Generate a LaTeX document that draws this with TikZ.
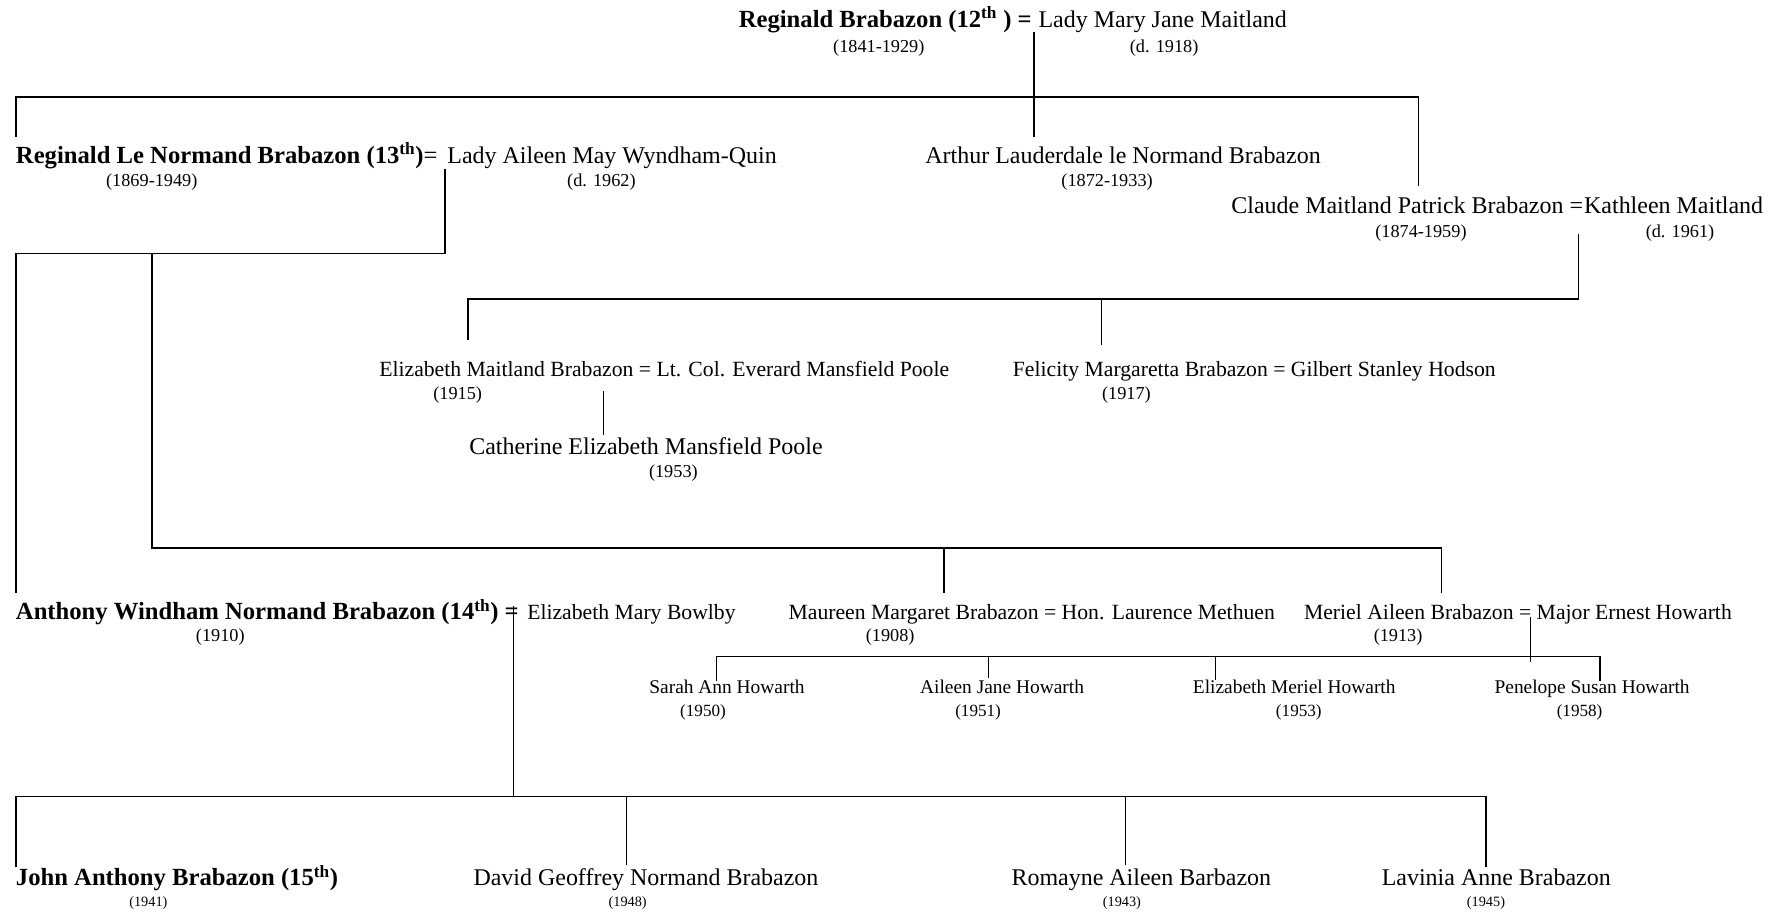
\documentclass[tikz,border=0pt]{standalone}
\usepackage{fontspec}
\setmainfont{Liberation Serif}
\newcommand\fsz[1]{\fontsize{#1}{#1}\selectfont}
\tikzset{
  big/.style={inner sep=0pt, outer sep=0pt, font=\fsz{21}},
  bigb/.style={inner sep=0pt, outer sep=0pt, font=\fsz{21.6}\bfseries},
  mid/.style={inner sep=0pt, outer sep=0pt, font=\fsz{19}},
  kid/.style={inner sep=0pt, outer sep=0pt, font=\fsz{17}},
  dt/.style={inner sep=0pt, outer sep=0pt, font=\fsz{16}},
  dts/.style={inner sep=0pt, outer sep=0pt, font=\fsz{15}},
  dtt/.style={inner sep=0pt, outer sep=0pt, font=\fsz{12.5}},
  link/.style={line width=1.3pt, black}
}
\begin{document}
\begin{tikzpicture}[x=1pt,y=-1pt]
\useasboundingbox (0,0) rectangle (1564,800);
% ---- generation 12
\node[bigb, anchor=base east] (r12) at (904,24) {Reginald Brabazon (12\textsuperscript{th} ) =};
\node[big, anchor=base west] (mjm) at (910,24) {Lady Mary Jane Maitland};
\node[dt, anchor=base] (r12d) at (770,46) {(1841-1929)};
\node[dt, anchor=base] (mjmd) at (1020,46) {(d. 1918)};
% ---- generation 13
\node[bigb, anchor=base west] (r13) at (14,143) {Reginald Le Normand Brabazon (13\textsuperscript{th})\mdseries=};
\node[big, anchor=base west] (aml) at (392,143) {Lady Aileen May Wyndham-Quin};
\node[dt, anchor=base] (r13d) at (133,163) {(1869-1949)};
\node[dt, anchor=base] (amld) at (527,163) {(d. 1962)};
\node[big, anchor=base] (arth) at (984,143) {Arthur Lauderdale le Normand Brabazon};
\node[dt, anchor=base] (arthd) at (970,163) {(1872-1933)};
\node[big, anchor=base east] (clau) at (1387,187) {Claude Maitland Patrick Brabazon =};
\node[big, anchor=base west] (kath) at (1388,187) {Kathleen Maitland};
\node[dt, anchor=base] (claud) at (1245,208) {(1874-1959)};
\node[dt, anchor=base] (kathd) at (1472,208) {(d. 1961)};
% ---- Claude's children
\node[mid, anchor=base] (eliz) at (582,330) {Elizabeth Maitland Brabazon = Lt. Col. Everard Mansfield Poole};
\node[dt, anchor=base] (elizd) at (401,350) {(1915)};
\node[mid, anchor=base] (feli) at (1099,330) {Felicity Margaretta Brabazon = Gilbert Stanley Hodson};
\node[dt, anchor=base] (felid) at (987,350) {(1917)};
\node[big, anchor=base] (cath) at (566,398) {Catherine Elizabeth Mansfield Poole};
\node[dt, anchor=base] (cathd) at (590,418) {(1953)};
% ---- generation 14
\node[bigb, anchor=base west] (a14) at (14,543) {Anthony Windham Normand Brabazon (14\textsuperscript{th}) =};
\node[mid, anchor=base west] (emb) at (462,543) {Elizabeth Mary Bowlby};
\node[dt, anchor=base] (a14d) at (193,562) {(1910)};
\node[mid, anchor=base] (maur) at (904,543) {Maureen Margaret Brabazon = Hon. Laurence Methuen};
\node[dt, anchor=base] (maurd) at (780,562) {(1908)};
\node[mid, anchor=base] (meri) at (1330,543) {Meriel Aileen Brabazon = Major Ernest Howarth};
\node[dt, anchor=base] (merid) at (1225,562) {(1913)};
% ---- Howarth children
\node[kid, anchor=base] (sara) at (637,608) {Sarah Ann Howarth};
\node[dts, anchor=base] (sarad) at (616,628) {(1950)};
\node[kid, anchor=base] (aile) at (878,608) {Aileen Jane Howarth};
\node[dts, anchor=base] (ailed) at (857,628) {(1951)};
\node[kid, anchor=base] (emh) at (1134,608) {Elizabeth Meriel Howarth};
\node[dts, anchor=base] (emhd) at (1138,628) {(1953)};
\node[kid, anchor=base] (pene) at (1395,608) {Penelope Susan Howarth};
\node[dts, anchor=base] (pened) at (1384,628) {(1958)};
% ---- generation 15
\node[bigb, anchor=base west] (j15) at (14,776) {John Anthony Brabazon (15\textsuperscript{th})};
\node[dtt, anchor=base] (j15d) at (130,794) {(1941)};
\node[big, anchor=base] (davi) at (566,776) {David Geoffrey Normand Brabazon};
\node[dtt, anchor=base] (david) at (550,794) {(1948)};
\node[big, anchor=base] (roma) at (1000,776) {Romayne Aileen Barbazon};
\node[dtt, anchor=base] (romad) at (983,794) {(1943)};
\node[big, anchor=base] (lavi) at (1311,776) {Lavinia Anne Brabazon};
\node[dtt, anchor=base] (lavid) at (1302,794) {(1945)};
% ---- junction coordinates
\coordinate (m12) at (906,28);
\coordinate (bus1L) at (14,85);
\coordinate (bus1R) at (1243,85);
\coordinate (m13) at (390,148);
\coordinate (bus2a) at (390,222);
\coordinate (bus2L) at (14,222);
\coordinate (bus2b) at (133,222);
\coordinate (bus3L) at (133,480);
\coordinate (bus3R) at (1263,480);
\coordinate (mcl) at (1383,205);
\coordinate (bus4R) at (1383,262);
\coordinate (bus4L) at (410,262);
\coordinate (mel) at (529,343);
\coordinate (m14) at (450,531);
\coordinate (bus5) at (450,698);
\coordinate (mme) at (1341,541);
\coordinate (bus6L) at (628,575);
\coordinate (bus6R) at (1402,575);
% ---- connectors
\draw[link] (m12) -- (906,120);
\draw[link] (14,120) -- (bus1L) -- (bus1R) -- (1243,163);
\draw[link] (m13) -- (bus2a) -- (bus2L) -- (14,520);
\draw[link] (bus2b) -- (bus3L) -- (bus3R) -- (1263,520);
\draw[link] (827,480) -- (827,520);
\draw[link] (mcl) -- (bus4R) -- (bus4L) -- (410,298);
\draw[link] (965,262) -- (965,302);
\draw[link] (mel) -- (529,381);
\draw[link] (m14) -- (bus5);
\draw[link] (14,760) -- (14,698) -- (1302,698) -- (1302,760);
\draw[link] (549,698) -- (549,758);
\draw[link] (986,698) -- (986,758);
\draw[link] (mme) -- (1341,580);
\draw[link] (628,597) -- (bus6L) -- (bus6R) -- (1402,597);
\draw[link] (866,575) -- (866,594);
\draw[link] (1065,575) -- (1065,596);
\end{tikzpicture}
\end{document}
